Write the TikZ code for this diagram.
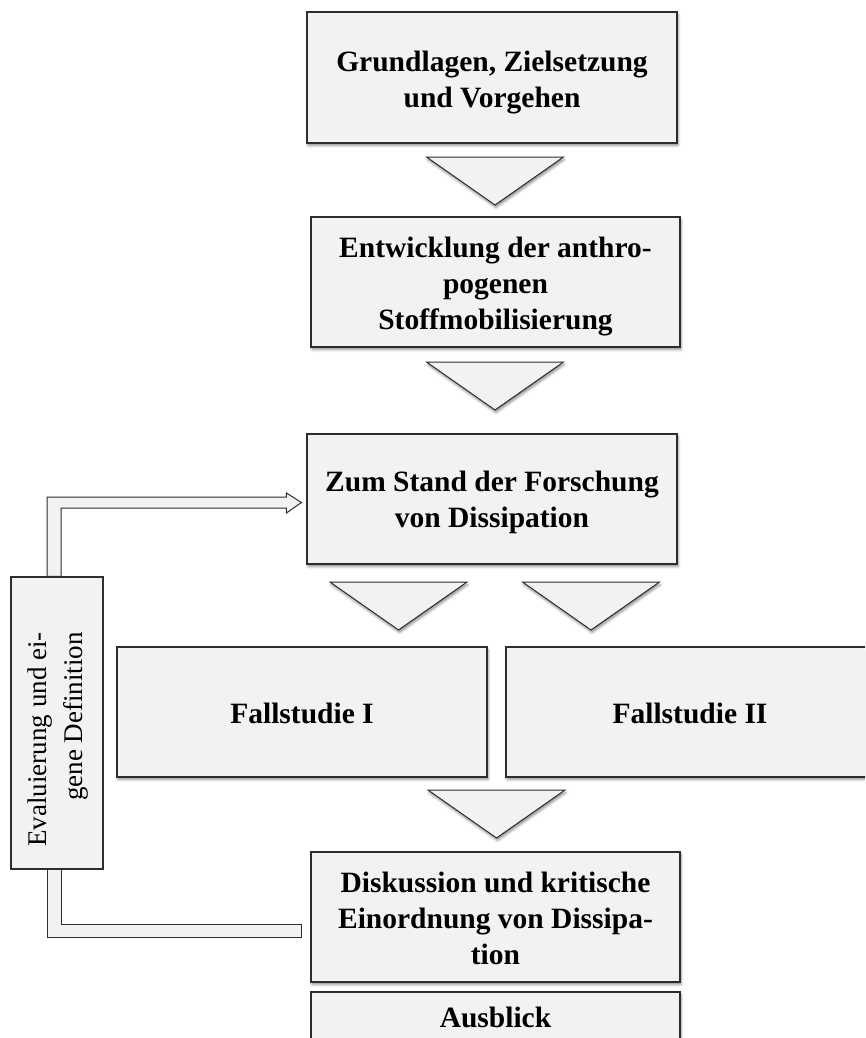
\documentclass[tikz,border=0pt]{standalone}
\usepackage{fontspec}
\setmainfont{Liberation Serif}
\usetikzlibrary{calc,shadows.blur}
\definecolor{boxfill}{HTML}{F2F2F2}
\definecolor{boxline}{HTML}{2E2E2E}
\begin{document}
\begin{tikzpicture}[x=1pt,y=-1pt,
  softshadow/.style={blur shadow={shadow xshift=1pt, shadow yshift=-2.5pt,
      shadow blur radius=2.5pt, shadow opacity=45}},
  box/.style={draw=boxline, fill=boxfill, line width=1.1pt, inner sep=0pt, softshadow},
  sidebox/.style={draw=boxline, fill=boxfill, line width=1.1pt, inner sep=0pt},
  flow/.style={draw=boxline, fill=boxfill, line width=1pt, line join=miter},
  boxtext/.style={font=\bfseries\fontsize{29.5}{36}\selectfont, align=center, inner sep=0pt},
  sidetext/.style={font=\fontsize{27}{36}\selectfont, align=right, inner sep=0pt, rotate=90},
  downtri/.pic={\path[flow, softshadow] (-68.5,0) -- (68.5,0) -- (0,48) -- cycle;}
]
\useasboundingbox (0,0) rectangle (865,1038);
\clip (0,0) rectangle (865,1038);

% main chain of chapters
\node[box, minimum width=370pt, minimum height=131pt] (b1) at (492,77.5) {};
\node[box, minimum width=369pt, minimum height=130pt] (b2) at (495.5,282) {};
\node[box, minimum width=370pt, minimum height=130pt] (b3) at (492,499) {};
\node[box, minimum width=370pt, minimum height=130pt] (b4) at (302,712) {};
\node[box, minimum width=368pt, minimum height=130pt] (b5) at (690,712) {};
\node[box, minimum width=369pt, minimum height=130pt] (b6) at (495.5,917) {};
\node[box, minimum width=369pt, minimum height=60pt]  (b7) at (495.5,1022) {};

\node[boxtext] (t1) at ($(b1.center)+(0,4.7)$) {Grundlagen, Zielsetzung\\und Vorgehen};
\node[boxtext] (t2) at ($(b2.center)+(0,5)$) {Entwicklung der anthro-\\pogenen\\Stoffmobilisierung};
\node[boxtext] (t3) at ($(b3.center)+(0,3.2)$) {Zum Stand der Forschung\\von Dissipation};
\node[boxtext] (t4) at ($(b4.center)+(0,1)$) {Fallstudie I};
\node[boxtext] (t5) at ($(b5.center)+(0,1)$) {Fallstudie II};
\node[boxtext] (t6) at ($(b6.center)+(0,1)$) {Diskussion und kritische\\Einordnung von Dissipa-\\tion};
\node[boxtext] (t7) at ($(b7.north)+(0,26)$) {Ausblick};

% block arrows between the chapters
\pic at (495,157) {downtri};
\pic at (495,362) {downtri};
\pic at (398.5,582) {downtri};
\pic at (591,582) {downtri};
\pic at (496.5,790) {downtri};

% feedback box on the left
\node[sidebox, minimum width=92pt, minimum height=292pt] (ev) at (57,723) {};
\node[sidetext, anchor=east] (evt) at (58,632) {Evaluierung und ei-\\gene Definition};

% hollow arrow from the feedback box to the state of research
\coordinate (uL) at ($(ev.north)+(-10,0)$);
\coordinate (uR) at ($(ev.north)+(4,0)$);
\coordinate (tipU) at ($(b3.west)+(-5,3.5)$);
\coordinate (uTop) at ($(tipU)+(0,-5.5)$);
\coordinate (uBot) at ($(tipU)+(0,5.5)$);
\coordinate (hTop) at ($(tipU)+(-15,-9.5)$);
\coordinate (hBot) at ($(tipU)+(-15,10.5)$);
\path[flow] (uL) -- (uL |- uTop) -- (hTop |- uTop) -- (hTop) -- (tipU)
  -- (hBot) -- (hBot |- uBot) -- (uR |- uBot) -- (uR) -- cycle;

% hollow band from the discussion back to the feedback box
\coordinate (lL) at ($(ev.south)+(-10,0)$);
\coordinate (lR) at ($(ev.south)+(4,0)$);
\coordinate (lEnd) at ($(b6.west)+(-9,13.5)$);
\coordinate (lTop) at ($(lEnd)+(0,-6.5)$);
\coordinate (lBot) at ($(lEnd)+(0,6.5)$);
\path[flow] (lL) -- (lL |- lBot) -- (lBot) -- (lTop) -- (lR |- lTop) -- (lR) -- cycle;
\end{tikzpicture}
\end{document}
